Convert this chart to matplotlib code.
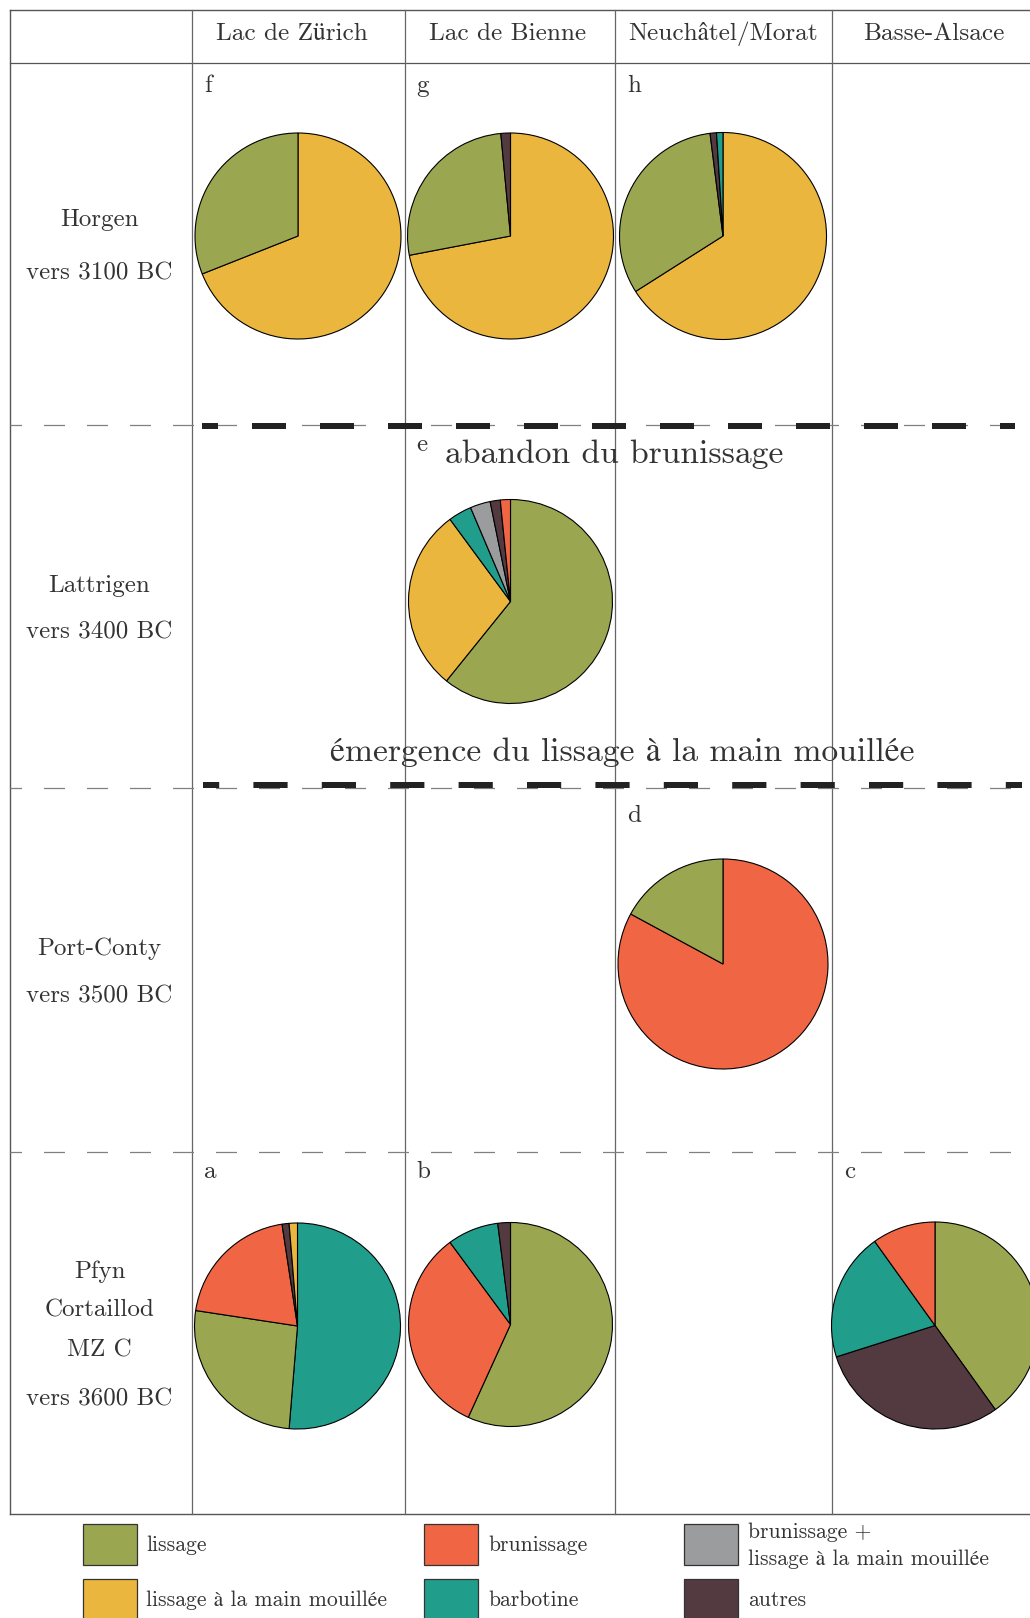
import matplotlib
matplotlib.use("Agg")
import matplotlib.pyplot as plt
from matplotlib.patches import Rectangle

plt.rcParams['font.family'] = ['cmr10', 'STIXGeneral', 'DejaVu Serif']
plt.rcParams['lines.scale_dashes'] = False

W, H = 1030, 1618
TXT = '#333333'

# ---------------- data ----------------
categories = ['lissage', 'lissage à la main mouillée', 'brunissage', 'barbotine',
              'brunissage +\nlissage à la main mouillée', 'autres']
colors = {'lissage': '#9BA651', 'lissage à la main mouillée': '#EBB63E',
          'brunissage': '#F06543', 'barbotine': '#209E8B',
          'brunissage +\nlissage à la main mouillée': '#9B9C9D', 'autres': '#523A40'}

columns = ['Lac de Zürich', 'Lac de Bienne', 'Neuchâtel/Morat', 'Basse-Alsace']
rows = [['Horgen', 'vers 3100 BC'], ['Lattrigen', 'vers 3400 BC'],
        ['Port-Conty', 'vers 3500 BC'], ['Pfyn', 'Cortaillod', 'MZ C', 'vers 3600 BC']]

# pies: categories clockwise from top, values in %
pie_f_cats = ['lissage à la main mouillée', 'lissage']
pie_f_vals = [69, 31]
pie_g_cats = ['lissage à la main mouillée', 'lissage', 'autres']
pie_g_vals = [72, 26.5, 1.5]
pie_h_cats = ['lissage à la main mouillée', 'lissage', 'autres', 'barbotine']
pie_h_vals = [66, 32, 1, 1]
pie_e_cats = ['lissage', 'lissage à la main mouillée', 'barbotine',
              'brunissage +\nlissage à la main mouillée', 'autres', 'brunissage']
pie_e_vals = [60.8, 29.1, 3.7, 3.2, 1.6, 1.6]
pie_d_cats = ['brunissage', 'lissage']
pie_d_vals = [82.9, 17.1]
pie_a_cats = ['barbotine', 'lissage', 'brunissage', 'autres', 'lissage à la main mouillée']
pie_a_vals = [51.3, 26.1, 20.2, 1.1, 1.3]
pie_b_cats = ['lissage', 'brunissage', 'barbotine', 'autres']
pie_b_vals = [56.8, 33.1, 8.1, 2.0]
pie_c_cats = ['lissage', 'autres', 'barbotine', 'brunissage']
pie_c_vals = [40.1, 30.0, 20.0, 9.9]

annotations = ['abandon du brunissage', 'émergence du lissage à la main mouillée']

# ---------------- layout (pixels) ----------------
col_x = [9.5, 192, 404.5, 615, 832, 1045]
row_y = [63, 425, 788, 1152, 1514]
pies = [
    ('f', 0, 0, pie_f_cats, pie_f_vals, (298, 236), 103, 23),
    ('g', 0, 1, pie_g_cats, pie_g_vals, (510.5, 236), 103, 23),
    ('h', 0, 2, pie_h_cats, pie_h_vals, (723, 236), 103.5, 23),
    ('e', 1, 1, pie_e_cats, pie_e_vals, (510.5, 601.5), 102, 20),
    ('d', 2, 2, pie_d_cats, pie_d_vals, (723, 964), 105, 28),
    ('a', 3, 0, pie_a_cats, pie_a_vals, (297.5, 1326), 103, 20),
    ('b', 3, 1, pie_b_cats, pie_b_vals, (510.5, 1324.5), 102, 20),
    ('c', 3, 3, pie_c_cats, pie_c_vals, (935, 1325.5), 103.5, 20),
]

fig = plt.figure(figsize=(W / 100, H / 100), dpi=100)
ax = fig.add_axes([0, 0, 1, 1])
ax.set_xlim(0, W)
ax.set_ylim(H, 0)
ax.axis('off')

frame_c = '#555555'
grid_c = '#666666'
# outer frame and header line
ax.plot([9.5, 9.5], [9.5, 1514], color=frame_c, lw=1.0)
ax.plot([9.5, W], [9.5, 9.5], color=frame_c, lw=1.0)
ax.plot([9.5, W], [63, 63], color=frame_c, lw=0.9)
ax.plot([9.5, W], [1514, 1514], color=frame_c, lw=1.0)
for x in col_x[1:5]:
    ax.plot([x, x], [9.5, 1514], color=grid_c, lw=0.9)

# gray dashed row separators
px2pt = 72 / 100
for y in row_y[1:4]:
    ax.plot([9.5, W], [y, y], color='#808080', lw=0.9,
            linestyle=(9.5 * px2pt, (21 * px2pt, 22 * px2pt)))

# bold dashed separators
ax.plot([202, 1015], [426, 426], color='#222222', lw=6 * px2pt, solid_capstyle='butt',
        dash_capstyle='butt', linestyle=(18 * px2pt, (34 * px2pt, 34 * px2pt)))
ax.plot([203, 1022], [784.5, 784.5], color='#222222', lw=6 * px2pt, solid_capstyle='butt',
        dash_capstyle='butt', linestyle=(18 * px2pt, (34.2 * px2pt, 34.2 * px2pt)))

# headers
header_x = [292, 508, 723, 934]
for name, cx in zip(columns, header_x):
    ax.text(cx, 34, name, ha='center', va='center', fontsize=18.2, color=TXT)

# row labels
row_label_y = [[220, 273], [586, 632], [949, 996], [1272, 1310, 1350, 1399]]
for lines, ys in zip(rows, row_label_y):
    for t, y in zip(lines, ys):
        ax.text(99.5, y, t, ha='center', va='center', fontsize=18, color=TXT)

# annotations
ax.text(614, 454, annotations[0], ha='center', va='center', fontsize=24.2, color=TXT)
ax.text(622, 752, annotations[1], ha='center', va='center', fontsize=24.2, color=TXT)

# pies
for letter, r, c, cats, vals, (cx, cy), rad, dy in pies:
    lx = col_x[c + 1] + 12
    ly = row_y[r] + dy
    ax.text(lx, ly, letter, ha='left', va='center', fontsize=18, color=TXT)
    pad = 1.02
    size = 2 * rad * pad
    pax = fig.add_axes([(cx - size / 2) / W, 1 - (cy + size / 2) / H, size / W, size / H])
    pax.pie(vals, colors=[colors[k] for k in cats], startangle=90, counterclock=False,
            radius=1, wedgeprops=dict(edgecolor='black', linewidth=0.8))
    pax.set_xlim(-pad, pad)
    pax.set_ylim(-pad, pad)
    pax.set_aspect('equal')
    pax.axis('off')

# legend
legend_pos = [(82.5, 1524), (82.5, 1579), (424, 1524), (424, 1579), (684, 1524), (684, 1579)]
for cat, (x, y) in zip(categories, legend_pos):
    ax.add_patch(Rectangle((x, y), 54, 41, facecolor=colors[cat], edgecolor='#333333', lw=0.9))
    if '\n' in cat:
        l1, l2 = cat.split('\n')
        ax.text(x + 64, y + 8, l1, ha='left', va='center', fontsize=15.6, color=TXT)
        ax.text(x + 64, y + 35, l2, ha='left', va='center', fontsize=15.6, color=TXT)
    else:
        ax.text(x + 64, y + 21, cat, ha='left', va='center', fontsize=15.6, color=TXT)

fig.savefig('out.png', dpi=100)
